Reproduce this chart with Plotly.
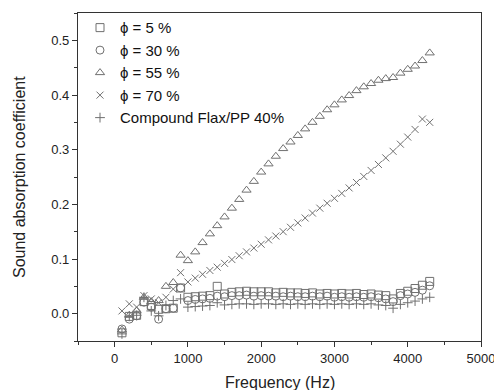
import plotly.graph_objects as go

freq = [100, 200, 300, 400, 500, 600, 700, 800, 900, 1000,
        1100, 1200, 1300, 1400, 1500, 1600, 1700, 1800, 1900, 2000,
        2100, 2200, 2300, 2400, 2500, 2600, 2700, 2800, 2900, 3000,
        3100, 3200, 3300, 3400, 3500, 3600, 3700, 3800, 3900, 4000,
        4100, 4200, 4300]

phi5 = [-0.035, -0.005, -0.003, 0.022, 0.015, 0.008, 0.009, 0.010, 0.047, 0.030,
        0.031, 0.032, 0.033, 0.050, 0.036, 0.039, 0.040, 0.041, 0.040, 0.040,
        0.040, 0.038, 0.039, 0.038, 0.038, 0.037, 0.038, 0.036, 0.037, 0.036,
        0.037, 0.036, 0.037, 0.035, 0.036, 0.034, 0.033, 0.027, 0.037, 0.041,
        0.046, 0.052, 0.059]

phi30 = [-0.028, -0.010, -0.004, 0.021, 0.012, -0.010, 0.009, 0.010, 0.047, 0.024,
         0.026, 0.027, 0.028, 0.032, 0.031, 0.033, 0.033, 0.034, 0.032, 0.033,
         0.032, 0.032, 0.031, 0.032, 0.031, 0.031, 0.032, 0.031, 0.032, 0.030,
         0.031, 0.030, 0.031, 0.030, 0.031, 0.029, 0.027, 0.022, 0.033, 0.036,
         0.039, 0.043, 0.051]

phi55 = [-0.030, -0.003, 0.005, 0.030, 0.022, 0.024, 0.050, 0.057, 0.107, 0.097,
         0.113, 0.130, 0.146, 0.161, 0.177, 0.193, 0.209, 0.226, 0.242, 0.259,
         0.274, 0.288, 0.302, 0.314, 0.326, 0.338, 0.350, 0.361, 0.373, 0.382,
         0.391, 0.399, 0.408, 0.415, 0.421, 0.427, 0.430, 0.432, 0.440, 0.447,
         0.453, 0.463, 0.477]

phi70 = [0.005, 0.018, 0.012, 0.033, 0.027, 0.020, 0.030, 0.045, 0.075, 0.058,
         0.065, 0.072, 0.079, 0.085, 0.092, 0.099, 0.106, 0.113, 0.120, 0.127,
         0.135, 0.142, 0.150, 0.158, 0.166, 0.175, 0.184, 0.193, 0.202, 0.211,
         0.220, 0.230, 0.240, 0.251, 0.262, 0.273, 0.285, 0.297, 0.310, 0.323,
         0.337, 0.356, 0.350]

compound = [-0.037, -0.005, -0.003, 0.030, 0.005, -0.004, 0.015, 0.024, 0.027, 0.012,
            0.013, 0.014, 0.015, 0.020, 0.016, 0.017, 0.018, 0.018, 0.017, 0.018,
            0.018, 0.017, 0.018, 0.017, 0.018, 0.017, 0.018, 0.017, 0.018, 0.017,
            0.018, 0.017, 0.018, 0.017, 0.018, 0.016, 0.015, 0.010, 0.017, 0.020,
            0.023, 0.027, 0.030]

series = [
    ("ϕ = 5 %", phi5, "square-open", 8),
    ("ϕ = 30 %", phi30, "circle-open", 8),
    ("ϕ = 55 %", phi55, "triangle-up-open", 8),
    ("ϕ = 70 %", phi70, "x-thin-open", 7),
    ("Compound Flax/PP 40%", compound, "cross-thin-open", 7),
]

x_ticks = [0, 1000, 2000, 3000, 4000, 5000]
x_minor = [-500, 500, 1500, 2500, 3500, 4500]
y_ticks = [0.0, 0.1, 0.2, 0.3, 0.4, 0.5]
y_minor = [-0.05, 0.05, 0.15, 0.25, 0.35, 0.45, 0.55]

MARK = "#707070"
AXC = "#333333"
FONT = "Arial, Liberation Sans, sans-serif"

fig = go.Figure()
for name, vals, sym, sz in series:
    fig.add_trace(go.Scatter(
        x=freq, y=vals, mode="markers", name=name,
        marker=dict(symbol=sym, size=sz, color=MARK, line=dict(color=MARK, width=1)),
    ))

axis_common = dict(
    showgrid=False, zeroline=False, showline=True, linecolor=AXC, linewidth=1.2,
    mirror=True, ticks="outside", ticklen=5, tickwidth=1, tickcolor=AXC,
    tickfont=dict(family=FONT, size=13, color="#222"), automargin=False,
    ticklabeloverflow="allow",
)

fig.update_xaxes(
    range=[-500, 5000], tickvals=x_ticks,
    minor=dict(tickvals=x_minor, ticks="outside", ticklen=3, tickcolor=AXC),
    **axis_common,
)
fig.update_yaxes(
    range=[-0.05, 0.55], tickvals=y_ticks, tickformat=".1f",
    minor=dict(tickvals=y_minor, ticks="outside", ticklen=3, tickcolor=AXC),
    **axis_common,
)

fig.add_annotation(text="Frequency (Hz)", xref="paper", yref="paper", x=0.5, y=0,
                   xanchor="center", yanchor="middle", yshift=-41, showarrow=False,
                   font=dict(family=FONT, size=16, color="#222"))
fig.add_annotation(text="Sound absorption coefficient", xref="paper", yref="paper", x=0, y=0.5,
                   xanchor="center", yanchor="middle", xshift=-59, textangle=-90, showarrow=False,
                   font=dict(family=FONT, size=16, color="#222"))

fig.update_layout(
    width=494, height=390,
    margin=dict(l=78, r=13, t=13, b=49, autoexpand=False),
    paper_bgcolor="white", plot_bgcolor="white",
    font=dict(family=FONT, color="#222"),
    legend=dict(
        x=0.005, y=1.005, xanchor="left", yanchor="top",
        bgcolor="rgba(0,0,0,0)", font=dict(family=FONT, size=15, color="#111"),
        itemwidth=30, tracegroupgap=0,
    ),
    showlegend=True,
)

fig.write_html("out.html", config={"displayModeBar": False},
               post_script="document.body.style.margin='0';document.body.style.overflow='hidden';")
